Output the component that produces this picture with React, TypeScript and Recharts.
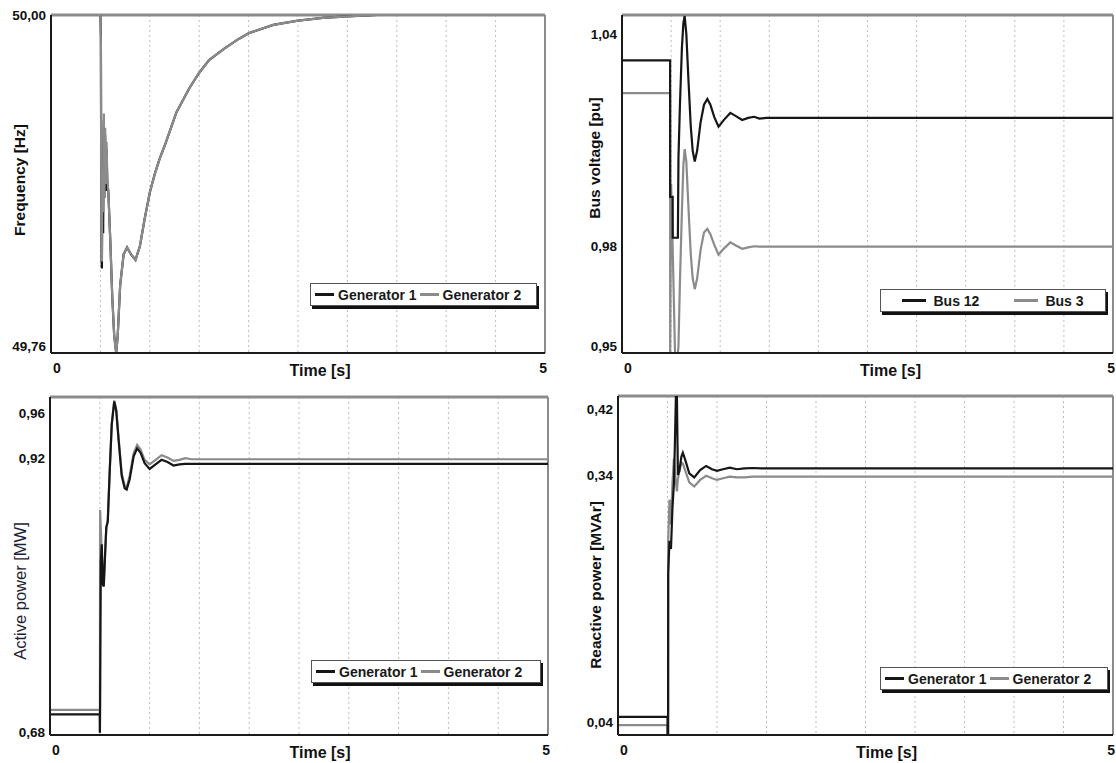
import React from 'react';
import { LineChart, Line, XAxis, YAxis, CartesianGrid, ReferenceLine, Legend } from 'recharts';

const FONT = '"Liberation Sans", Arial, Helvetica, sans-serif';
const DARK = '#161616';
const GRAY = '#8b8b8b';

// shared time axis (s)
const timeTicks = [0, 0.5, 1, 1.5, 2, 2.5, 3, 3.5, 4, 4.5, 5];

// ---- Frequency [Hz] ----
const freqTime = [0, 0.5, 0.505, 0.51, 0.515, 0.52, 0.528, 0.535, 0.54, 0.548, 0.555, 0.562, 0.57, 0.58, 0.6, 0.62, 0.64, 0.66, 0.675, 0.7, 0.735, 0.77, 0.81, 0.855, 0.9, 0.95, 1.0, 1.05, 1.1, 1.16, 1.27, 1.4, 1.5, 1.6, 1.75, 1.9, 2.0, 2.25, 2.5, 2.75, 3.0, 3.3, 5];
const freqGen1 = [50, 50, 49.985, 49.83, 49.82, 49.88, 49.845, 49.925, 49.87, 49.915, 49.875, 49.905, 49.88, 49.875, 49.84, 49.8, 49.772, 49.76, 49.772, 49.808, 49.83, 49.835, 49.83, 49.826, 49.836, 49.856, 49.874, 49.887, 49.898, 49.909, 49.931, 49.948, 49.959, 49.968, 49.976, 49.983, 49.987, 49.993, 49.996, 49.998, 49.999, 50, 50];
const freqGen2 = [50, 50, 49.98, 49.83, 49.825, 49.89, 49.86, 49.93, 49.87, 49.92, 49.88, 49.91, 49.885, 49.875, 49.84, 49.8, 49.772, 49.76, 49.772, 49.808, 49.83, 49.835, 49.83, 49.826, 49.836, 49.856, 49.874, 49.887, 49.898, 49.909, 49.931, 49.948, 49.959, 49.968, 49.976, 49.983, 49.987, 49.993, 49.996, 49.998, 49.999, 50, 50];
const freqTicks = [49.76, 50.0];

// ---- Bus voltage [pu] ----
const busTime = [0, 0.49, 0.4905, 0.5, 0.516, 0.5165, 0.54, 0.569, 0.575, 0.59, 0.61, 0.625, 0.638, 0.655, 0.675, 0.7, 0.72, 0.741, 0.765, 0.8, 0.835, 0.869, 0.9, 0.94, 0.983, 1.04, 1.103, 1.16, 1.224, 1.285, 1.345, 1.4, 1.47, 5];
const bus12 = [1.0325, 1.0325, 0.994, 0.994, 0.994, 0.9825, 0.9825, 0.9825, 1.005, 1.02, 1.036, 1.043, 1.045, 1.04, 1.028, 1.014, 1.007, 1.004, 1.007, 1.015, 1.02, 1.0216, 1.02, 1.0165, 1.0138, 1.0158, 1.0177, 1.0168, 1.0157, 1.0163, 1.0166, 1.0161, 1.0163, 1.0163];
const bus3 = [1.0233, 1.0233, 0.95, 0.9977, 0.98, 0.979, 0.95, 0.95, 0.952, 0.97, 0.99, 1.003, 1.0075, 1.004, 0.992, 0.978, 0.971, 0.968, 0.971, 0.979, 0.984, 0.985, 0.9835, 0.9805, 0.9777, 0.9795, 0.9812, 0.9803, 0.9794, 0.9798, 0.9801, 0.98, 0.98, 0.98];
const busTicks = [0.95, 0.98, 1.04];

// ---- Active power [MW] ----
const pTime = [0, 0.5, 0.501, 0.503, 0.51, 0.52, 0.53, 0.54, 0.555, 0.565, 0.58, 0.6, 0.62, 0.645, 0.665, 0.69, 0.72, 0.75, 0.77, 0.8, 0.84, 0.875, 0.91, 0.95, 1.0, 1.06, 1.12, 1.18, 1.24, 1.3, 1.36, 1.42, 5];
const pGen1 = [0.696, 0.696, 0.68, 0.7, 0.83, 0.845, 0.81, 0.808, 0.84, 0.86, 0.865, 0.91, 0.95, 0.97, 0.962, 0.935, 0.905, 0.894, 0.893, 0.902, 0.922, 0.929, 0.925, 0.916, 0.911, 0.915, 0.919, 0.917, 0.914, 0.915, 0.9155, 0.9155, 0.9155];
const pGen2 = [0.7, 0.7, 0.68, 0.875, 0.86, 0.835, 0.815, 0.812, 0.84, 0.858, 0.866, 0.91, 0.95, 0.971, 0.963, 0.937, 0.907, 0.896, 0.895, 0.905, 0.925, 0.932, 0.928, 0.919, 0.915, 0.919, 0.923, 0.921, 0.918, 0.919, 0.9205, 0.9195, 0.9195];
const pTicks = [0.68, 0.92, 0.96];

// ---- Reactive power [MVAr] ----
const qTime = [0, 0.5, 0.501, 0.506, 0.507, 0.52, 0.535, 0.55, 0.565, 0.575, 0.585, 0.595, 0.605, 0.62, 0.64, 0.655, 0.68, 0.72, 0.77, 0.83, 0.89, 0.95, 1.0, 1.06, 1.13, 1.2, 1.28, 1.36, 1.45, 5];
const qGen1 = [0.046, 0.046, 0.024, 0.024, 0.22, 0.26, 0.25, 0.3, 0.33, 0.38, 0.436, 0.436, 0.34, 0.345, 0.362, 0.367, 0.358, 0.342, 0.337, 0.346, 0.351, 0.347, 0.345, 0.347, 0.349, 0.347, 0.348, 0.3485, 0.348, 0.348];
const qGen2 = [0.036, 0.036, 0.024, 0.024, 0.26, 0.31, 0.28, 0.33, 0.36, 0.345, 0.33, 0.32, 0.335, 0.345, 0.355, 0.354, 0.345, 0.331, 0.326, 0.334, 0.339, 0.336, 0.334, 0.336, 0.338, 0.337, 0.337, 0.338, 0.338, 0.338];
const qTicks = [0.04, 0.34, 0.42];

const fmt = (v: number) => v.toFixed(2).replace('.', ',');

const XTick = (props: any) => {
  const { x, y, payload } = props;
  const v = payload.value;
  if (v !== 0 && v !== 5) return <g />;
  return (
    <text x={x + 2} y={y + 20} textAnchor={v === 0 ? 'start' : 'end'} fontFamily={FONT} fontWeight={700} fontSize={14} fill="#111">
      {String(v)}
    </text>
  );
};

const YTick = (props: any) => {
  const { x, y, payload, lift } = props;
  const d = (lift && lift[payload.value]) || 0;
  return (
    <text x={x} y={y - d} dy="0.35em" textAnchor="end" fontFamily={FONT} fontWeight={700} fontSize={13.5} fill="#111">
      {fmt(payload.value)}
    </text>
  );
};

const XTitle = (props: any) => {
  const vb = props.viewBox || { x: 0, y: 0, width: 0 };
  return (
    <text x={vb.x + vb.width / 2 + props.dx} y={vb.y + 23} textAnchor="middle" fontFamily={FONT} fontWeight={700} fontSize={16} fill="#111">
      Time [s]
    </text>
  );
};

const YTitle = (props: any) => {
  const { cx, cy, text, bold } = props;
  return (
    <text x={cx} y={cy} transform={`rotate(-90 ${cx} ${cy})`} textAnchor="middle" dominantBaseline="central" fontFamily={FONT} fontWeight={bold ? 700 : 400} fontSize={bold ? 15.5 : 16.5} fill={bold ? '#111' : '#1c2235'}>
      {text}
    </text>
  );
};

const LegendBox = (props: any) => {
  const { payload, width, spread } = props;
  const items = [...(payload || [])].sort((a: any, b: any) => String(a.dataKey).localeCompare(String(b.dataKey)));
  return (
    <div style={{ width, height: 23, boxSizing: 'border-box', border: '1px solid #555', boxShadow: '2px 3px 0 #111', background: '#fff', display: 'flex', alignItems: 'center', justifyContent: spread ? 'space-around' : 'flex-start', padding: '0 4px', fontFamily: FONT, fontWeight: 700, fontSize: 14, color: '#1a1a1a', whiteSpace: 'nowrap' }}>
      {items.map((it: any) => (
        <span key={it.value} style={{ display: 'flex', alignItems: 'center', marginRight: spread ? 0 : 3 }}>
          <span style={{ display: 'inline-block', width: spread ? 24 : 19, height: 3, background: it.color, marginRight: spread ? 7 : 4 }} />
          {it.value}
        </span>
      ))}
    </div>
  );
};

function Panel(p: any) {
  const rows = p.time.map((t: number, i: number) => ({ t, s1: p.s1[i], s2: p.s2[i] }));
  const a = { key: 's1', name: p.names[0], color: DARK };
  const b = { key: 's2', name: p.names[1], color: GRAY };
  const order = p.grayOnTop ? [a, b] : [b, a];
  return (
    <div style={{ position: 'absolute', left: p.left, top: p.top }}>
      <LineChart width={p.width} height={p.height} data={rows} margin={p.margin}>
        <CartesianGrid horizontal={false} stroke="#bdbdbd" strokeDasharray="2 3" />
        <XAxis
          dataKey="t"
          type="number"
          domain={[0, 5]}
          ticks={timeTicks}
          interval={0}
          allowDataOverflow
          height={p.xHeight}
          tickSize={0}
          tickMargin={0}
          tickLine={false}
          axisLine={{ stroke: '#1a1a1a', strokeWidth: 2 }}
          tick={<XTick />}
          label={<XTitle dx={p.xTitleDx} />}
        />
        <YAxis
          type="number"
          domain={p.domain}
          ticks={p.ticks}
          interval={0}
          allowDataOverflow
          width={p.yWidth}
          tickSize={0}
          tickMargin={5}
          tickLine={false}
          axisLine={{ stroke: '#1a1a1a', strokeWidth: 2 }}
          tick={<YTick lift={p.lift} />}
          label={<YTitle cx={p.title.cx} cy={p.title.cy} text={p.title.text} bold={p.title.bold} />}
        />
        <ReferenceLine y={p.domain[1]} stroke="#8c8c8c" strokeWidth={3} />
        <ReferenceLine x={5} stroke="#8c8c8c" strokeWidth={2} />
        {order.map((s) => (
          <Line key={s.key} type="linear" dataKey={s.key} name={s.name} stroke={s.color} strokeWidth={2.2} dot={false} activeDot={false} isAnimationActive={false} />
        ))}
        <Legend
          layout="horizontal"
          verticalAlign="middle"
          align="center"
          wrapperStyle={{ left: p.legend.left, top: p.legend.top, width: p.legend.width, height: 23 }}
          content={(lp: any) => <LegendBox payload={lp.payload} width={p.legend.width} spread={p.legend.spread} />}
        />
      </LineChart>
    </div>
  );
}

export default function App() {
  return (
    <div style={{ position: 'absolute', left: 0, top: 0, width: 1116, height: 763, background: '#fff', overflow: 'hidden' }}>
      <Panel
        left={0} top={0} width={560} height={390}
        margin={{ top: 15, right: 15, left: 0, bottom: 7 }}
        yWidth={51} xHeight={30} xTitleDx={22}
        time={freqTime} s1={freqGen1} s2={freqGen2} names={['Generator 1', 'Generator 2']}
        domain={[49.76, 50.0]} ticks={freqTicks} lift={{ 49.76: 7 }} grayOnTop
        title={{ cx: 19, cy: 180, text: 'Frequency [Hz]', bold: true }}
        legend={{ left: 310, top: 283, width: 227, spread: false }}
      />
      <Panel
        left={560} top={0} width={556} height={390}
        margin={{ top: 15, right: 3, left: 0, bottom: 7 }}
        yWidth={62} xHeight={30} xTitleDx={23}
        time={busTime} s1={bus12} s2={bus3} names={['Bus 12', 'Bus 3']}
        domain={[0.95, 1.0453]} ticks={busTicks} lift={{ 0.95: 7 }} grayOnTop={false}
        title={{ cx: 34, cy: 158, text: 'Bus voltage [pu]', bold: true }}
        legend={{ left: 320, top: 289, width: 226, spread: true }}
      />
      <Panel
        left={0} top={380} width={560} height={383}
        margin={{ top: 17, right: 12, left: 0, bottom: 0 }}
        yWidth={50} xHeight={28} xTitleDx={21}
        time={pTime} s1={pGen1} s2={pGen2} names={['Generator 1', 'Generator 2']}
        domain={[0.678, 0.974]} ticks={pTicks} lift={{}} grayOnTop={false}
        title={{ cx: 20, cy: 211, text: 'Active power [MW]', bold: false }}
        legend={{ left: 311, top: 280, width: 230, spread: false }}
      />
      <Panel
        left={560} top={380} width={556} height={383}
        margin={{ top: 16, right: 3, left: 0, bottom: 0 }}
        yWidth={58} xHeight={28} xTitleDx={21}
        time={qTime} s1={qGen1} s2={qGen2} names={['Generator 1', 'Generator 2']}
        domain={[0.024, 0.436]} ticks={qTicks} lift={{}} grayOnTop={false}
        title={{ cx: 35, cy: 205, text: 'Reactive power [MVAr]', bold: true }}
        legend={{ left: 320, top: 287, width: 228, spread: false }}
      />
    </div>
  );
}
